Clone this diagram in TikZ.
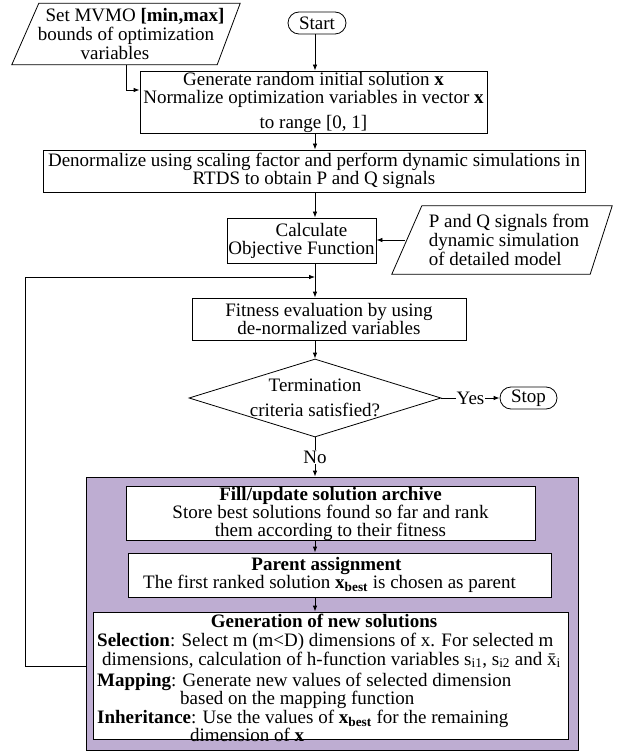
\documentclass[tikz,border=0pt]{standalone}
\usepackage{fontspec}
\setmainfont{Liberation Serif}
\usetikzlibrary{shapes.geometric,arrows.meta}
\definecolor{archivebg}{RGB}{190,173,210}
\begin{document}
\begin{tikzpicture}[x=1pt,y=-1pt,font=\fontsize{19}{18}\selectfont,
    box/.style={draw,line width=0.8pt,inner sep=0pt,align=center},
    io/.style={inner sep=0pt},
    terminal/.style={draw,line width=0.8pt,rounded corners=11pt,inner sep=0pt,minimum height=22pt},
    arr/.style={line width=0.8pt,-{Latex[length=6pt,width=4.5pt]}}]
    \useasboundingbox (0,0) rectangle (625,751);
    \coordinate (axis) at (315,0);
    \coordinate (loopin) at (315,277);

    % upper part
    \node[io,minimum width=228pt,minimum height=61pt,
        label={[align=center,font=\fontsize{19}{19}\selectfont]center:\hspace*{18pt}Set MVMO \textbf{[min,max]}\\bounds of optimization\\variables\hspace*{22pt}}] (bounds) at (126,34) {};
    \draw[line width=0.8pt] ([xshift=27pt]bounds.north west) -- (bounds.north east) -- ([xshift=-23pt]bounds.south east) -- (bounds.south west) -- cycle;
    \node[terminal,minimum width=58pt] (start) at (317,23) {Start};
    \node[box,minimum width=347pt,minimum height=62pt] (init) at (313.5,102) {Generate random initial solution \textbf{x}\\Normalize optimization variables in vector \textbf{x}\\[7pt]to range [0, 1]};
    \node[box,minimum width=542pt,minimum height=42pt] (denorm) at (314,171) {Denormalize using scaling factor and perform dynamic simulations in\\RTDS to obtain P and Q signals};
    \node[box,minimum width=149pt,minimum height=45pt] (calc) at (301.5,240.5) {\hspace*{20pt}Calculate\\Objective Function};
    \node[io,minimum width=220pt,minimum height=68pt,
        label={[align=left,xshift=7pt,font=\fontsize{19}{19}\selectfont]center:P and Q signals from\\dynamic simulation\\of detailed model}] (signals) at (502,240) {};
    \draw[line width=0.8pt] ([xshift=30pt]signals.north west) -- (signals.north east) -- ([xshift=-22pt]signals.south east) -- (signals.south west) -- cycle;
    \node[box,minimum width=274pt,minimum height=42pt] (fit) at (329,319) {Fitness evaluation by using\\de-normalized variables};
    \node[draw,line width=0.8pt,diamond,inner sep=0pt,minimum width=252pt,minimum height=78pt,
        label={[align=center]center:Termination\\[7pt]criteria satisfied?}] (check) at (315,398) {};
    \node[terminal,minimum width=57pt] (stop) at (528.5,398) {Stop};

    % archive block
    \node[draw,line width=0.8pt,fill=archivebg,minimum width=492pt,minimum height=273pt] (archive) at (332,613.5) {};
    \node[box,fill=white,minimum width=409pt,minimum height=51pt] (fillbox) at (330.5,513.5) {\textbf{Fill/update solution archive}\\Store best solutions found so far and rank\\them according to their fitness};
    \node[box,fill=white,minimum width=423pt,minimum height=44pt] (parent) at (339.5,575) {\textbf{Parent assignment}\hspace*{26pt}\\The first ranked solution \textbf{x}\textsubscript{\textbf{best}} is chosen as parent\hspace*{20pt}};
    \node[box,fill=white,minimum width=475pt,minimum height=127pt] (gen) at (330.5,675.5) {};
    \node (genhead) at (324,621) {\textbf{Generation of new solutions}};
    \node[anchor=north west,inner sep=0pt,align=left,font=\fontsize{19}{17}\selectfont] (gentext) at (97,633) {\textbf{Selection}: Select m (m<D) dimensions of x. For selected m\\
        \hspace*{5pt}dimensions, calculation of h-function variables s\textsubscript{i1}, s\textsubscript{i2} and \=x\textsubscript{i}\\[4pt]
        \textbf{Mapping}: Generate new values of selected dimension\\
        \hspace*{83pt}based on the mapping function\\
        \textbf{Inheritance}: Use the values of \textbf{x}\textsubscript{\textbf{best}} for the remaining\\
        \hspace*{93pt}dimension of \textbf{x}};

    % connectors
    \draw[arr] (axis |- start.south) -- (axis |- init.north);
    \draw[arr] (bounds.center |- bounds.south) |- ([yshift=12pt]init.west);
    \draw[arr] (axis |- init.south) -- (axis |- denorm.north);
    \draw[arr] (axis |- denorm.south) -- (axis |- calc.north);
    \draw[arr] ([xshift=13pt]signals.west) -- (calc.east |- signals.west);
    \draw[arr] (axis |- calc.south) -- (axis |- fit.north);
    \draw[arr] (axis |- fit.south) -- (check.north);
    \draw[arr] (check.east) -- node[fill=white,inner sep=1pt] (yes) {Yes} (stop.west);
    \draw[arr] (check.south) -- node[fill=white,inner sep=1pt] (no) {No} (axis |- archive.north);
    \draw[arr] (axis |- fillbox.south) -- (axis |- parent.north);
    \draw[arr] (axis |- parent.south) -- (axis |- gen.north);
    \draw[arr] (archive.west |- 0,666) -| (25,277) -- (loopin);
\end{tikzpicture}
\end{document}
